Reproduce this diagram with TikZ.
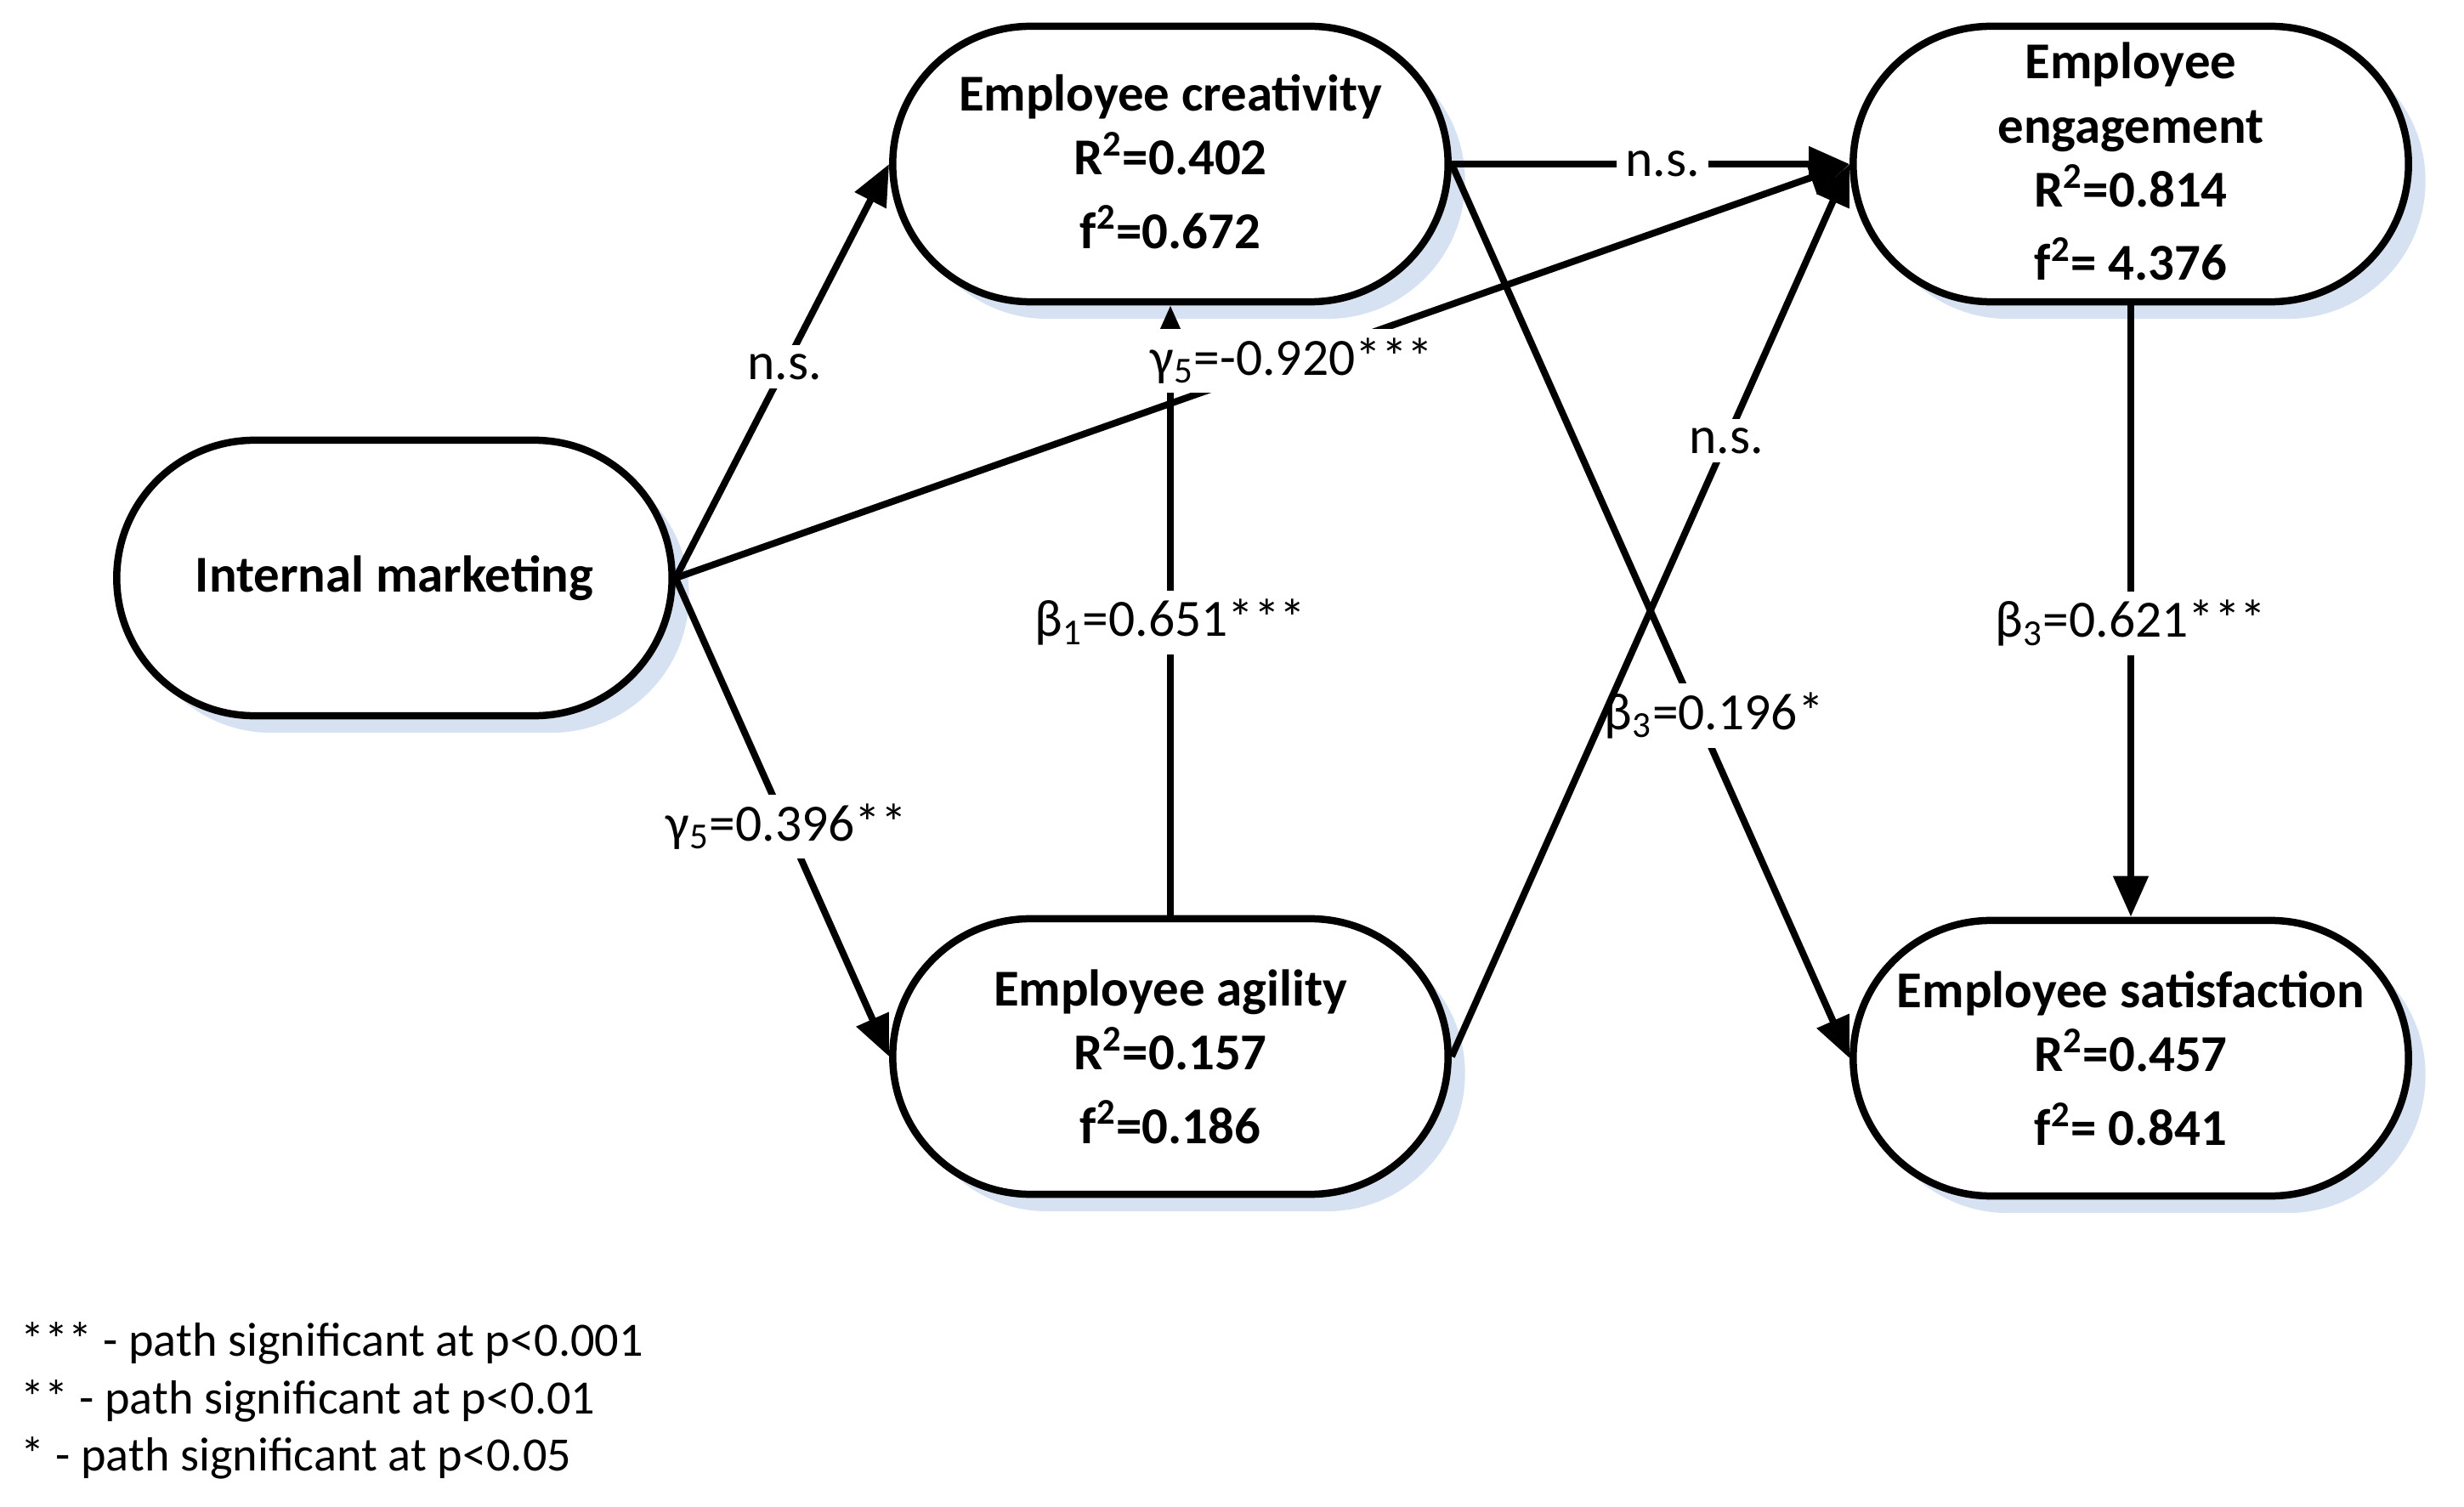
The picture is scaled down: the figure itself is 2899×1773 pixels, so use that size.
\documentclass[tikz,border=0pt]{standalone}
\usepackage{fontspec}
\setmainfont{Carlito}
\usetikzlibrary{shapes.misc,arrows.meta,shadows}
\definecolor{shadowblue}{HTML}{D6E2F2}
\begin{document}
\begin{tikzpicture}[x=0.01cm,y=-0.01cm,
  var/.style={rounded rectangle, draw, line width=0.085cm, fill=white,
    minimum width=6.53cm, minimum height=3.24cm, inner sep=0pt,
    drop shadow={shadow xshift=0.2cm, shadow yshift=-0.2cm, fill=shadowblue, opacity=1}},
  vtext/.style={font=\fontsize{17.3}{21.5}\selectfont\bfseries, align=center, inner sep=0pt},
  conn/.style={line width=0.08cm, -{Triangle[length=0.48cm,width=0.4cm]}},
  lab/.style={fill=white, inner sep=3pt, font=\fontsize{17.5}{21}\selectfont},
  legend/.style={font=\fontsize{16}{19.2}\selectfont, align=left, inner sep=0pt, anchor=west}]
\useasboundingbox (0,0) rectangle (2899,1773);

\node[var] (im)  at (464,680)  {};
\node[var] (cre) at (1377,193) {};
\node[var] (eng) at (2507,193) {};
\node[var] (agi) at (1377,1243) {};
\node[var] (sat) at (2507,1245) {};

\node[vtext] (imt)  at (im.center)  {Internal marketing};
\node[vtext] (cret) at ([yshift=0.03cm]cre.center) {Employee creativity\\R\textsuperscript{2}=0.402\\[3pt]f\textsuperscript{2}=0.672};
\node[vtext] (engt) at ([yshift=0.03cm]eng.center) {Employee\\engagement\\R\textsuperscript{2}=0.814\\[3pt]f\textsuperscript{2}= 4.376};
\node[vtext] (agit) at (agi.center) {Employee agility\\R\textsuperscript{2}=0.157\\[3pt]f\textsuperscript{2}=0.186};
\node[vtext] (satt) at (sat.center) {Employee satisfaction\\R\textsuperscript{2}=0.457\\[3pt]f\textsuperscript{2}= 0.841};

\draw[conn] (agi.north) -- node[lab,pos=0.48] (lb1) {β\textsubscript{1}=0.651***} (cre.south);
\draw[conn] (eng.south) -- node[lab,pos=0.52] (lb3) {β\textsubscript{3}=0.621***} (sat.north);
\draw[conn] (cre.east) -- node[lab,pos=0.53] (lns2) {n.s.} (eng.west);
\draw[conn] (cre.east) -- node[lab,pos=0.617,xshift=0.2cm] (lb3b) {β\textsubscript{3}=0.196*} (sat.west);
\draw[conn] (agi.east) -- node[lab,pos=0.69] (lns3) {n.s.} (eng.west);
\draw[conn] (im.east) -- node[lab,pos=0.51] (lns1) {n.s.} (cre.west);
\draw[conn] (im.east) -- node[lab,pos=0.52] (lg2) {γ\textsubscript{5}=0.396**} (agi.west);
\draw[conn] (im.east) -- node[lab,pos=0.525] (lg1) {γ\textsubscript{5}=-0.920***} (eng.west);

\node[legend] (leg) at (24,1648) {*** - path significant at p<0.001\\** - path significant at p<0.01\\* - path significant at p<0.05};
\end{tikzpicture}
\end{document}
